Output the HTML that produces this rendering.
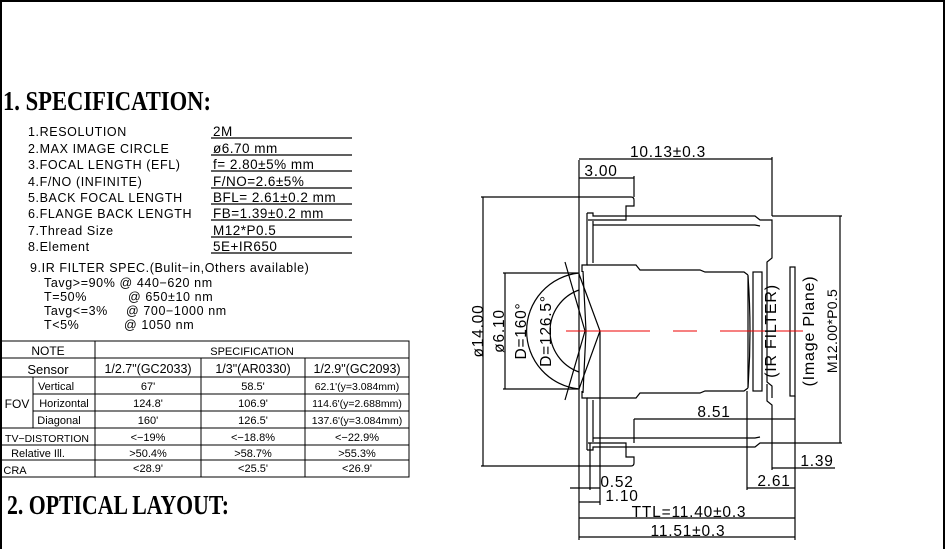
<!DOCTYPE html>
<html><head><meta charset="utf-8"><style>
html,body{margin:0;padding:0;background:#fff;}
svg{display:block;font-family:"Liberation Sans",sans-serif;}
</style></head><body>
<svg width="946" height="549" viewBox="0 0 946 549" xmlns="http://www.w3.org/2000/svg">
<rect x="1" y="1" width="943" height="560" fill="none" stroke="#000" stroke-width="2"/>
<text x="3" y="110" font-family="Liberation Serif" font-weight="bold" font-size="27" textLength="208" lengthAdjust="spacingAndGlyphs">1. SPECIFICATION:</text>
<g font-size="12.5" fill="#000" letter-spacing="0.6">
<text x="28" y="136">1.RESOLUTION</text>
<text x="28" y="153">2.MAX IMAGE CIRCLE</text>
<text x="28" y="169">3.FOCAL LENGTH (EFL)</text>
<text x="28" y="186">4.F/NO (INFINITE)</text>
<text x="28" y="202">5.BACK FOCAL LENGTH</text>
<text x="28" y="218">6.FLANGE BACK LENGTH</text>
<text x="28" y="235">7.Thread Size</text>
<text x="28" y="251">8.Element</text>
</g>
<g font-size="13.5" fill="#000" letter-spacing="0.5">
<text x="213" y="136">2M</text>
<text x="213" y="153">ø6.70 mm</text>
<text x="213" y="169">f= 2.80±5%  mm</text>
<text x="213" y="186">F/NO=2.6±5%</text>
<text x="213" y="202">BFL= 2.61±0.2 mm</text>
<text x="213" y="218">FB=1.39±0.2 mm</text>
<text x="213" y="235">M12*P0.5</text>
<text x="213" y="251">5E+IR650</text>
</g>
<g font-size="12.5" fill="#000" letter-spacing="0.6">
<text x="30" y="272">9.IR FILTER SPEC.(Bulit−in,Others available)</text>
<text x="44" y="287">Tavg&gt;=90% @ 440−620 nm</text>
<text x="44" y="301">T=50%</text><text x="128" y="301">@ 650±10 nm</text>
<text x="44" y="315">Tavg&lt;=3%</text><text x="126" y="315">@ 700−1000 nm</text>
<text x="44" y="329">T&lt;5%</text><text x="124" y="329">@ 1050 nm</text>
</g>
<g stroke="#000" stroke-width="1.3">
<line x1="211" y1="138" x2="352" y2="138"/><line x1="211" y1="155" x2="352" y2="155"/>
<line x1="211" y1="171" x2="352" y2="171"/><line x1="211" y1="188" x2="352" y2="188"/>
<line x1="211" y1="204" x2="352" y2="204"/><line x1="211" y1="220" x2="352" y2="220"/>
<line x1="211" y1="237" x2="352" y2="237"/><line x1="211" y1="253" x2="352" y2="253"/>
</g>
<!-- table -->
<g stroke="#000" stroke-width="1" fill="none">
<rect x="1" y="341" width="408" height="136"/>
<line x1="1" y1="358" x2="409" y2="358"/><line x1="1" y1="377" x2="409" y2="377"/>
<line x1="33" y1="394" x2="409" y2="394"/><line x1="33" y1="411" x2="409" y2="411"/>
<line x1="1" y1="428" x2="409" y2="428"/><line x1="1" y1="445" x2="409" y2="445"/>
<line x1="1" y1="460" x2="409" y2="460"/>
<line x1="95" y1="341" x2="95" y2="477"/><line x1="201" y1="358" x2="201" y2="477"/>
<line x1="305" y1="358" x2="305" y2="477"/><line x1="33" y1="377" x2="33" y2="428"/>
</g>
<g font-size="11" text-anchor="middle">
<text x="48" y="355" font-size="12">NOTE</text><text x="252" y="355">SPECIFICATION</text>
<text x="48" y="374" font-size="13">Sensor</text><text x="148" y="373" font-size="12.5">1/2.7"(GC2033)</text><text x="253" y="373" font-size="12.5">1/3"(AR0330)</text><text x="357" y="373" font-size="12.5">1/2.9"(GC2093)</text>
<text x="17" y="408" font-size="12">FOV</text>
<text x="56" y="390">Vertical</text><text x="64" y="407">Horizontal</text><text x="59" y="424">Diagonal</text>
<text x="148" y="390">67'</text><text x="253" y="390">58.5'</text><text x="357" y="390" font-size="10.5">62.1'(y=3.084mm)</text>
<text x="148" y="407">124.8'</text><text x="253" y="407">106.9'</text><text x="357" y="407" font-size="10.5">114.6'(y=2.688mm)</text>
<text x="148" y="424">160'</text><text x="253" y="424">126.5'</text><text x="357" y="424" font-size="10.5">137.6'(y=3.084mm)</text>
<text x="47" y="442" font-size="10.5">TV−DISTORTION</text><text x="148" y="441">&lt;−19%</text><text x="253" y="441">&lt;−18.8%</text><text x="357" y="441">&lt;−22.9%</text>
<text x="38" y="457">Relative Ill.</text><text x="148" y="457">&gt;50.4%</text><text x="253" y="457">&gt;58.7%</text><text x="357" y="457">&gt;55.3%</text>
<text x="15" y="474">CRA</text><text x="148" y="472">&lt;28.9'</text><text x="253" y="472">&lt;25.5'</text><text x="357" y="472">&lt;26.9'</text>
</g>
<text x="7" y="514" font-family="Liberation Serif" font-weight="bold" font-size="27" textLength="222" lengthAdjust="spacingAndGlyphs">2. OPTICAL LAYOUT:</text>
<!-- drawing -->
<g stroke="#000" stroke-width="1.2" fill="none">
<path d="M579 197 L631 197 Q634 197 634 200 L634 206 L626 206 L626 220 L588 220"/>
<path d="M579 466 L631 466 Q634 466 634 463 L634 457 L626 457 L626 443 L588 443"/>
<path d="M587 213 L593 213 L593 216 L755 216 L760 220 L772 220 L772 258 L767 262 L767 382 L772 386 L772 398"/>
<path d="M587 450 L593 450 L593 447 L755 447 L760 443 L772 443 L772 405 L767 401 L767 384"/>
<path d="M587 213 L587 265 L582 265 L582 272"/>
<path d="M587 450 L587 398 L582 398 L582 391"/>
<line x1="593" y1="221" x2="593" y2="263"/><line x1="593" y1="400" x2="593" y2="442"/>
<path d="M593 225 L755 225 L760 226"/><path d="M593 438 L755 438 L760 437"/>
<path d="M587 265 L636 265 L640 270 L700 270 L705 272 L744 272 L748 275"/>
<path d="M587 398 L636 398 L640 393 L700 393 L705 391 L744 391 L748 388"/>
<line x1="748" y1="275" x2="748" y2="388"/>
<path d="M748 276 Q752 331 748 387"/>
<rect x="753" y="272" width="9" height="119"/>
<rect x="790" y="267" width="5" height="129"/>
<line x1="579" y1="160" x2="579" y2="540"/>
<path d="M579 274 L600 331 L579 389"/>
<path d="M583 271 L586 331 L583 393"/>
<path d="M565 262 L585 331 L565 400"/>
<path d="M579 290 A43.5 43.5 0 0 0 579 372"/>
<path d="M579 273 A58.3 58.3 0 0 0 579 389"/>
<line x1="772" y1="157" x2="772" y2="216"/>
<line x1="579" y1="159" x2="772" y2="159"/>
<line x1="634" y1="176" x2="634" y2="197"/>
<line x1="579" y1="178" x2="634" y2="178"/>
<line x1="481" y1="197" x2="579" y2="197"/><line x1="481" y1="466" x2="579" y2="466"/>
<line x1="483" y1="197" x2="483" y2="466"/>
<line x1="503" y1="273" x2="578" y2="273"/><line x1="503" y1="389" x2="578" y2="389"/>
<line x1="505" y1="273" x2="505" y2="389"/>
<line x1="772" y1="216" x2="842" y2="216"/><line x1="772" y1="443" x2="842" y2="443"/>
<line x1="840" y1="216" x2="840" y2="443"/>
<line x1="634" y1="419" x2="795" y2="419"/><line x1="634" y1="419" x2="634" y2="443"/>
<line x1="795" y1="396" x2="795" y2="540"/>
<line x1="772" y1="443" x2="772" y2="470"/>
<line x1="772" y1="468" x2="835" y2="468"/>
<line x1="747" y1="391" x2="747" y2="490"/>
<line x1="747" y1="488" x2="795" y2="488"/>
<line x1="570" y1="488" x2="600" y2="488"/>
<line x1="590" y1="443" x2="590" y2="490"/>
<line x1="600" y1="331" x2="600" y2="505"/>
<line x1="579" y1="502" x2="600" y2="502"/>
<line x1="579" y1="518" x2="795" y2="518"/>
<line x1="579" y1="537" x2="795" y2="537"/>
</g>
<line x1="566" y1="331" x2="650" y2="331" stroke="#e00" stroke-width="1"/>
<line x1="673" y1="331" x2="697" y2="331" stroke="#e00" stroke-width="1"/>
<line x1="720" y1="331" x2="803" y2="331" stroke="#e00" stroke-width="1"/>
<g font-size="15.5" text-anchor="middle" letter-spacing="0.8">
<text x="668" y="157">10.13±0.3</text>
<text x="601" y="176">3.00</text>
<text x="714" y="417">8.51</text>
<text x="817" y="466">1.39</text>
<text x="774" y="486">2.61</text>
<text x="617" y="487">0.52</text>
<text x="622" y="501">1.10</text>
<text x="689" y="517">TTL=11.40±0.3</text>
<text x="688" y="536">11.51±0.3</text>
<text transform="translate(483,331) rotate(-90)">ø14.00</text>
<text transform="translate(504,331) rotate(-90)">ø6.10</text>
<text transform="translate(526,331) rotate(-90)">D=160°</text>
<text transform="translate(551,331) rotate(-90)">D=126.5°</text>
<text transform="translate(776,331) rotate(-90)" font-size="16">(IR FILTER)</text>
<text transform="translate(814,331) rotate(-90)" font-size="16">(Image Plane)</text>
<text transform="translate(837,331) rotate(-90)" font-size="14" letter-spacing="0.3">M12.00*P0.5</text>
</g>
</svg>
</body></html>
